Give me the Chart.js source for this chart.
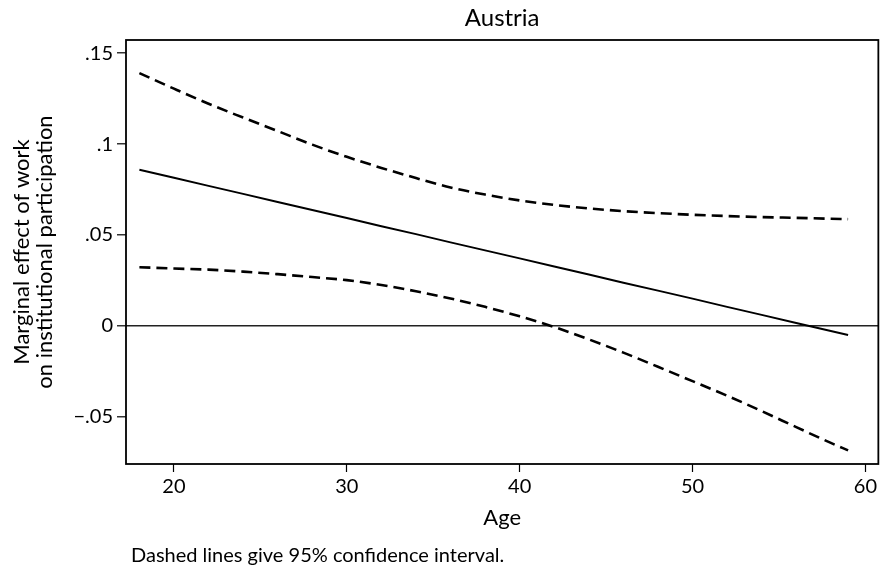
<!DOCTYPE html>
<html>
<head>
<meta charset="utf-8">
<script src="https://cdn.jsdelivr.net/npm/chart.js@4/dist/chart.umd.min.js"></script>
<style>
  html, body { margin: 0; padding: 0; background: #fff; }
  #wrap { width: 880px; height: 573px; position: relative; }
</style>
</head>
<body>
<div id="wrap"><canvas id="c" width="880" height="573"></canvas></div>
<script>
// ---- data ----
const chartTitle = 'Austria';
const xAxisTitle = 'Age';
const yAxisTitle = ['Marginal effect of work', 'on institutional participation'];
const footNote = 'Dashed lines give 95% confidence interval.';

const ages = [18,20,22,24,26,28,30,32,34,36,38,40,42,44,46,48,50,52,54,56,58,59];
const effect = [0.0859,0.0815,0.0770,0.0726,0.0681,0.0637,0.0593,0.0548,0.0504,0.0459,0.0415,0.0371,0.0326,0.0282,0.0237,0.0193,0.0149,0.0104,0.0060,0.0015,-0.0029,-0.0051];
const upperCI = [0.1391,0.1305,0.1222,0.1146,0.1072,0.0997,0.0930,0.0869,0.0813,0.0761,0.0722,0.0690,0.0665,0.0646,0.0631,0.0620,0.0611,0.0604,0.0598,0.0594,0.0589,0.0587];
const lowerCI = [0.0322,0.0315,0.0309,0.0298,0.0284,0.0268,0.0251,0.0224,0.0190,0.0150,0.0104,0.0052,-0.0007,-0.0075,-0.0148,-0.0226,-0.0305,-0.0385,-0.0470,-0.0558,-0.0645,-0.0686];

const xTickValues = [20,30,40,50,60];
const yTickValues = [-0.05,0,0.05,0.1,0.15];
const yTickLabels = ['\u2212.05','0','.05','.1','.15'];
const xRange = [17.225, 60.75];
const yRange = [-0.0761, 0.1573];

// ---- build ----
const FONT = 'Lato, "Open Sans", sans-serif';
const pts = arr => ages.map((a, i) => ({x: a, y: arr[i]}));

const decor = {
  id: 'decor',
  afterDraw(chart) {
    const {ctx, chartArea: a} = chart;
    ctx.save();
    ctx.strokeStyle = '#000';
    ctx.lineWidth = 1.8;
    ctx.strokeRect(a.left, a.top, a.right - a.left, a.bottom - a.top);
    ctx.fillStyle = '#000';
    ctx.font = '24px ' + FONT;
    ctx.textAlign = 'center';
    ctx.textBaseline = 'alphabetic';
    ctx.fillText(chartTitle, (a.left + a.right) / 2, 26);
    ctx.font = '20px ' + FONT;
    ctx.textAlign = 'left';
    ctx.fillText(footNote, 131, 562);
    ctx.restore();
  }
};

new Chart(document.getElementById('c'), {
  type: 'line',
  data: {
    datasets: [
      { label: 'Upper', data: pts(upperCI), borderColor: '#000', borderWidth: 2.6, borderDash: [11, 6], pointRadius: 0, cubicInterpolationMode: 'monotone', fill: false },
      { label: 'Effect', data: pts(effect), borderColor: '#000', borderWidth: 1.9, pointRadius: 0, tension: 0, fill: false },
      { label: 'Lower', data: pts(lowerCI), borderColor: '#000', borderWidth: 2.6, borderDash: [11, 6], pointRadius: 0, cubicInterpolationMode: 'monotone', fill: false }
    ]
  },
  options: {
    responsive: false,
    animation: false,
    devicePixelRatio: 1,
    layout: { padding: { top: 40, right: 1, left: 0, bottom: 0 } },
    plugins: { legend: { display: false }, tooltip: { enabled: false }, title: { display: false } },
    scales: {
      x: {
        type: 'linear',
        min: xRange[0], max: xRange[1],
        afterBuildTicks: s => { s.ticks = xTickValues.map(v => ({value: v})); },
        afterFit: s => { s.height = 109; },
        border: { display: false },
        grid: { drawOnChartArea: false, drawTicks: true, tickLength: 8, tickColor: '#000', tickWidth: 1.2 },
        ticks: { color: '#000', font: { family: FONT, size: 20 }, padding: 3, maxRotation: 0, autoSkip: false },
        title: { display: true, text: xAxisTitle, color: '#000', font: { family: FONT, size: 22 }, padding: { top: 0, bottom: 42 } }
      },
      y: {
        type: 'linear',
        min: yRange[0], max: yRange[1],
        afterBuildTicks: s => { s.ticks = yTickValues.map(v => ({value: v})); },
        afterFit: s => { s.width = 126; },
        border: { display: false },
        grid: {
          drawTicks: true, tickLength: 9, tickColor: '#000', tickWidth: 1.2,
          color: c => (c.tick && c.tick.value === 0) ? '#222' : 'rgba(0,0,0,0)',
          lineWidth: 1.6
        },
        ticks: {
          color: '#000', font: { family: FONT, size: 20 }, padding: 4, autoSkip: false,
          callback: (v) => { const i = yTickValues.indexOf(v); return i >= 0 ? yTickLabels[i] : ''; }
        },
        title: { display: true, text: yAxisTitle, color: '#000', font: { family: FONT, size: 22, lineHeight: 1.05 }, padding: { top: 10, bottom: 0 } }
      }
    }
  },
  plugins: [decor]
});
</script>
</body>
</html>
